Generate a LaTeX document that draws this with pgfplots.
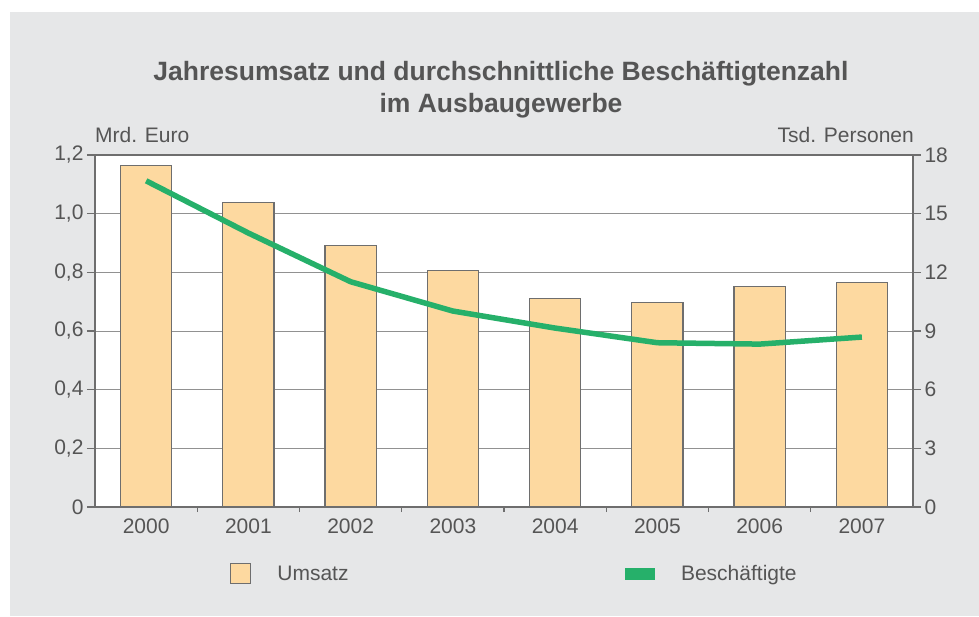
\documentclass[border=0pt]{standalone}
\usepackage{fontspec}
\setmainfont{Liberation Sans}
\usepackage{pgfplots}
\pgfplotsset{compat=1.18}

\definecolor{bg}{RGB}{230,231,232}
\definecolor{barfill}{RGB}{253,217,160}
\definecolor{axgray}{RGB}{110,110,110}
\definecolor{gridgray}{RGB}{145,145,145}
\definecolor{txt}{RGB}{85,85,85}
\definecolor{lgreen}{RGB}{38,176,106}

\pgfplotsset{
  base/.style={
    scale only axis, width=818pt, height=352pt,
    at={(0pt,0pt)}, anchor=south west,
    xmin=-0.5, xmax=7.5,
    axis line style={axgray, line width=1.5pt},
    tick align=outside,
    major tick length=8pt,
    minor tick length=5pt,
    tick style={axgray, line width=1.2pt},
    tick label style={font=\fontsize{21}{25}\selectfont, text=txt},
  }
}

\begin{document}
\begin{tikzpicture}
\useasboundingbox (-95pt,-109pt) rectangle (884pt,507pt);
\fill[bg] (-85pt,-109pt) rectangle (884pt,495pt);

% Umsatz (bars, left axis)
\begin{axis}[base,
  axis background/.style={fill=white},
  ymin=0, ymax=1.2,
  ytick={0,0.2,0.4,0.6,0.8,1.0,1.2},
  yticklabels={0,{0,2},{0,4},{0,6},{0,8},{1,0},{1,2}},
  ytick pos=left,
  xtick={0,1,2,3,4,5,6,7},
  xticklabels={2000,2001,2002,2003,2004,2005,2006,2007},
  xtick pos=bottom,
  every major x tick/.append style={draw=none},
  minor xtick={0.5,1.5,2.5,3.5,4.5,5.5,6.5},
  ymajorgrids, grid style={gridgray, line width=1pt},
  ybar, bar width=0.5,
]
\addplot[fill=barfill, draw=axgray, line width=1.2pt] coordinates {
  (0,1.163) (1,1.039) (2,0.891) (3,0.807) (4,0.712) (5,0.697) (6,0.751) (7,0.765)
};
\end{axis}

% Beschaeftigte (line, right axis)
\begin{axis}[base,
  axis y line*=right, axis x line=none,
  ymin=0, ymax=18,
  ytick={0,3,6,9,12,15,18},
  yticklabels={0,3,6,9,12,15,18},
  legend columns=2,
  legend cell align=left,
  legend style={at={(axis description cs:0.165,-0.190)}, anchor=west,
    draw=none, fill=none, inner sep=0pt,
    font=\fontsize{21}{25}\selectfont, text=txt,
    /tikz/every even column/.append style={column sep=274pt},
    /tikz/every odd column/.append style={column sep=24pt}},
]
\addlegendimage{legend image code/.code={
  \draw[fill=barfill, draw=axgray, line width=1.2pt] (0pt,-10pt) rectangle (20pt,10pt);}}
\addlegendentry{Umsatz}
\addplot[lgreen, line width=5.5pt,
  legend image code/.code={\fill[lgreen] (0pt,-3pt) rectangle (25pt,3pt);}]
  coordinates {
  (0,16.68) (1,14.01) (2,11.52) (3,10.02) (4,9.15) (5,8.40) (6,8.33) (7,8.69)
};
\addlegendentry{Beschäftigte}
\end{axis}

\node[anchor=base, font=\bfseries\fontsize{26.5}{30}\selectfont, text=txt] at (406pt,426pt)
  {Jahresumsatz und durchschnittliche Beschäftigtenzahl};
\node[anchor=base, font=\bfseries\fontsize{26.5}{30}\selectfont, text=txt] at (406pt,394pt)
  {im Ausbaugewerbe};
\node[anchor=base west, inner sep=0pt, font=\fontsize{21}{25}\selectfont, text=txt] at (0pt,364pt)
  {Mrd. Euro};
\node[anchor=base east, inner sep=0pt, font=\fontsize{21}{25}\selectfont, text=txt] at (819pt,364pt)
  {Tsd. Personen};
\end{tikzpicture}
\end{document}
